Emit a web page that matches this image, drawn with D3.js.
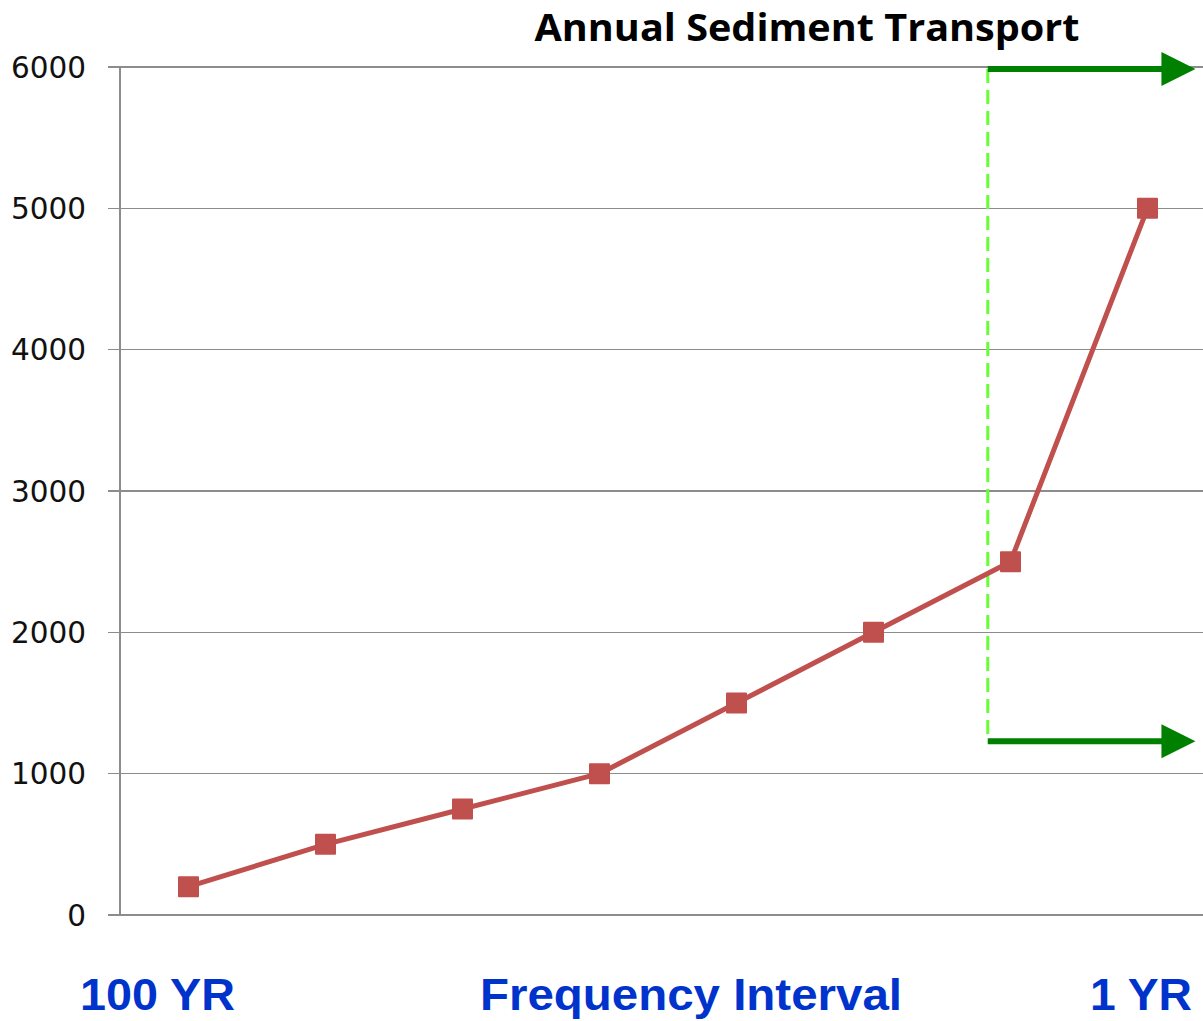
<!DOCTYPE html>
<html><head><meta charset="utf-8">
<script src="https://cdn.jsdelivr.net/npm/d3@7"></script>
<style>body{margin:0;background:#fff}svg{display:block}</style>
</head><body>
<svg id="c" width="1203" height="1021"></svg>
<script>
const categories = ["P1","P2","P3","P4","P5","P6","P7","P8"];
const values = [200, 500, 750, 1000, 1500, 2000, 2500, 5000];
const yTicks = [0, 1000, 2000, 3000, 4000, 5000, 6000];
const titleText = "Annual Sediment Transport";
const bottomLabels = ["100 YR", "Frequency Interval", "1 YR"];
// annotation: threshold position (in category-index units) and arrow levels (data units)
const thresholdIndex = [5.834];
const arrowLevels = [5985, 1230];
const arrowEndIndex = [7.35];

const svg = d3.select("#c");
const x = d3.scaleBand().domain(categories).range([120, 1216]).padding(0);
const y = d3.scaleLinear().domain([0, 6000]).range([915, 67]);
const xi = d3.scaleLinear().domain([0, 1]).range([x(categories[0]) + x.bandwidth()/2, x(categories[1]) + x.bandwidth()/2]);

// gridlines
svg.append("g").selectAll("line").data(yTicks).join("line")
  .attr("x1", 108).attr("x2", 1203)
  .attr("y1", d => y(d)).attr("y2", d => y(d))
  .attr("stroke", "#8c8c8c").attr("stroke-width", 1.3).attr("shape-rendering","crispEdges");
// y axis line
svg.append("line").attr("x1", 120).attr("x2", 120).attr("y1", y(6000)).attr("y2", y(0))
  .attr("stroke", "#8c8c8c").attr("stroke-width", 1.3).attr("shape-rendering","crispEdges");
// y labels
svg.append("g").selectAll("text").data(yTicks).join("text")
  .attr("x", 86).attr("y", d => y(d)).attr("dy", "0.36em")
  .attr("text-anchor", "end")
  .attr("font-family", "DejaVu Sans").attr("font-size", 29.5).attr("fill", "#111")
  .text(d => d);

// threshold dashed line
svg.append("line")
  .attr("x1", xi(thresholdIndex[0])).attr("x2", xi(thresholdIndex[0]))
  .attr("y1", y(arrowLevels[0])).attr("y2", y(arrowLevels[1]))
  .attr("stroke", "#66ff33").attr("stroke-width", 3).attr("stroke-dasharray", "14,7");

// series line
const line = d3.line().x((d,i) => x(categories[i]) + x.bandwidth()/2).y(d => y(d));
svg.append("path").datum(values).attr("d", line)
  .attr("fill", "none").attr("stroke", "#c0504d").attr("stroke-width", 5).attr("stroke-linejoin","round");
svg.append("g").selectAll("rect").data(values).join("rect")
  .attr("x", (d,i) => x(categories[i]) + x.bandwidth()/2 - 10.5)
  .attr("y", d => y(d) - 10.5)
  .attr("width", 21).attr("height", 21).attr("rx", 1)
  .attr("fill", "#c0504d");

// arrows
const ax0 = xi(thresholdIndex[0]), ax1 = xi(arrowEndIndex[0]);
arrowLevels.forEach(v => {
  const yy = y(v);
  svg.append("line").attr("x1", ax0).attr("x2", ax1 - 30).attr("y1", yy).attr("y2", yy)
    .attr("stroke", "#008000").attr("stroke-width", 6);
  svg.append("path")
    .attr("d", `M${ax1-34},${yy-17} L${ax1},${yy} L${ax1-34},${yy+17} Z`)
    .attr("fill", "#008000");
});

// title
svg.append("text").attr("x", 807).attr("y", 41).attr("text-anchor", "middle")
  .attr("font-family", "Open Sans").attr("font-weight", "bold").attr("font-size", 38)
  .attr("fill", "#000").attr("textLength", 545).attr("lengthAdjust","spacingAndGlyphs")
  .text(titleText);

// bottom labels
const bx = [80, 480, 1090];
const bw = [155, 422, 102];
svg.append("g").selectAll("text").data(bottomLabels).join("text")
  .attr("x", (d,i) => bx[i]).attr("y", 1010)
  .attr("font-family", "Liberation Sans, Arial").attr("font-weight", "bold").attr("font-size", 45)
  .attr("fill", "#0033cc")
  .attr("textLength", (d,i) => bw[i]).attr("lengthAdjust", "spacingAndGlyphs")
  .text(d => d);
</script>
</body></html>
